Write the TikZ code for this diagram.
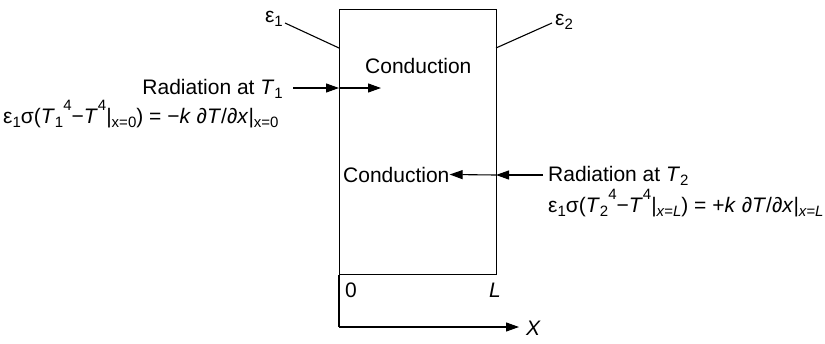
\documentclass[tikz,border=0pt]{standalone}
\usepackage{fontspec}
\setmainfont{Liberation Sans}
\usetikzlibrary{arrows.meta}
\newcommand{\lo}[1]{\raisebox{-0.22em}{\fontsize{15}{15}\selectfont #1}}
\newcommand{\hi}[1]{\raisebox{0.6em}{\fontsize{15}{15}\selectfont #1}}
\tikzset{
  lbl/.style={inner sep=0pt, font=\fontsize{21}{23}\selectfont},
  ln/.style={line width=1.1pt},
  arr/.style={line width=1.1pt, -{Triangle[length=13pt,width=9pt]}}
}
\begin{document}
\begin{tikzpicture}[x=1pt,y=-1pt]
\useasboundingbox (0,0) rectangle (825,343);
% slab
\node[draw, ln, minimum width=157, minimum height=265, inner sep=0pt, anchor=north west] (slab) at (339,9) {};
% emissivities
\node[lbl, anchor=base east] (e1) at (283,22) {ε\lo{1}};
\node[lbl, anchor=base west] (e2) at (555,25) {ε\lo{2}};
\coordinate (a1) at (285,23);
\coordinate (p1) at (339,48);
\coordinate (a2) at (552,23);
\coordinate (p2) at (496,48);
\draw[ln] (a1) -- (p1);
\draw[ln] (p2) -- (a2);
% left side
\node[lbl, anchor=base east] (r1) at (283,94) {Radiation at \textit{T}\lo{1}};
\node[lbl, anchor=base west] (eq1) at (3,123) {ε\lo{1}σ(\textit{T}\lo{1}\hi{4}−\textit{T}\hi{4}|\lo{x=0}) = −\textit{k} ∂\textit{T}/∂\textit{x}|\lo{x=0}};
\coordinate (r1s) at (293,88);
\coordinate (s1) at (339,88);
\coordinate (c1t) at (381,88);
\draw[arr] (r1s) -- (s1);
\draw[arr] (s1) -- (c1t);
\node[lbl, anchor=base west] (c1) at (365,73) {Conduction};
% right side
\node[lbl, anchor=base west] (c2) at (343,182) {Conduction};
\node[lbl, anchor=base west] (r2) at (548,181) {Radiation at \textit{T}\lo{2}};
\node[lbl, anchor=base west] (eq2) at (548,212) {ε\lo{1}σ(\textit{T}\lo{2}\hi{4}−\textit{T}\hi{4}|\lo{\textit{x=L}}) = +\textit{k} ∂\textit{T}/∂\textit{x}|\lo{\textit{x=L}}};
\coordinate (s2) at (496,175);
\coordinate (r2s) at (543,175);
\draw[arr] (s2) -- (c2.east);
\draw[arr] (r2s) -- (s2);
% axis
\node[lbl, anchor=base west] (zero) at (345,297) {0};
\node[lbl, anchor=base east] (Ll) at (501,297) {\textit{L}};
\coordinate (o) at (339,327);
\node[lbl, anchor=base west] (X) at (526,335) {\textit{X}};
\draw[ln] (slab.south west) -- (o);
\draw[arr, shorten >=7pt] (o) -- (X.west |- o);
\end{tikzpicture}
\end{document}
